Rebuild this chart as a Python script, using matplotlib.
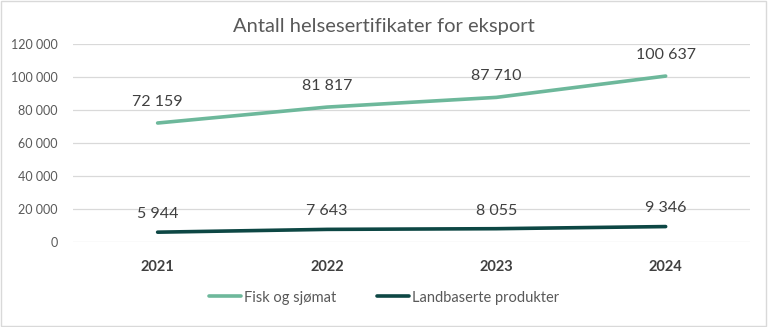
import matplotlib
matplotlib.use("Agg")
import matplotlib.pyplot as plt
from matplotlib.ticker import FuncFormatter
from matplotlib.patches import Rectangle

years = ["2021", "2022", "2023", "2024"]
fisk = [72159, 81817, 87710, 100637]
land = [5944, 7643, 8055, 9346]
series_names = ["Fisk og sjømat", "Landbaserte produkter"]
title = "Antall helsesertifikater for eksport"

plt.rcParams['font.family'] = ['Lato', 'DejaVu Sans']

fig = plt.figure(figsize=(7.68, 3.27), dpi=100)
ax = fig.add_axes([0.095, 0.26, 0.882, 0.605])

x = list(range(len(years)))
c1 = "#6db89b"
c2 = "#0d4744"
ax.plot(x, fisk, color=c1, lw=2.6, solid_capstyle='round', label=series_names[0])
ax.plot(x, land, color=c2, lw=2.6, solid_capstyle='round', label=series_names[1])

def fmt(v):
    return f"{int(v):,}".replace(",", " ")

for xi, v in zip(x, fisk):
    ax.annotate(fmt(v), (xi, v), xytext=(0, 10), textcoords='offset points',
                ha='center', va='bottom', fontsize=11.5, color='#404040')
for xi, v in zip(x, land):
    ax.annotate(fmt(v), (xi, v), xytext=(0, 8), textcoords='offset points',
                ha='center', va='bottom', fontsize=11.5, color='#404040')

ax.set_xlim(-0.5, len(years) - 0.5)
ax.set_ylim(0, 120000)
ax.set_yticks(range(0, 120001, 20000))
ax.yaxis.set_major_formatter(FuncFormatter(lambda v, p: fmt(v)))
ax.set_xticks(x)
ax.set_xticklabels(years, fontweight='bold', fontsize=10.5, color='#404040')
ax.tick_params(axis='y', labelsize=9, labelcolor='#595959', length=0, pad=11)
ax.tick_params(axis='x', length=0, pad=13)
ax.grid(axis='y', color='#d9d9d9', lw=0.9)
ax.set_axisbelow(True)
for s in ax.spines.values():
    s.set_visible(False)

fig.text(0.5, 0.918, title, ha='center', va='center', fontsize=14.5, color='#595959')

leg = fig.legend(loc='center', bbox_to_anchor=(0.5, 0.09), ncol=2, frameon=False,
                 fontsize=10.5, handlelength=2.2, handletextpad=0.2, columnspacing=2.8)
for t in leg.get_texts():
    t.set_color('#595959')

fig.patches.append(Rectangle((0.001, 0.002), 0.997, 0.995, transform=fig.transFigure,
                             fill=False, edgecolor='#d9d9d9', lw=1.0))

fig.savefig("out.png", dpi=100)
